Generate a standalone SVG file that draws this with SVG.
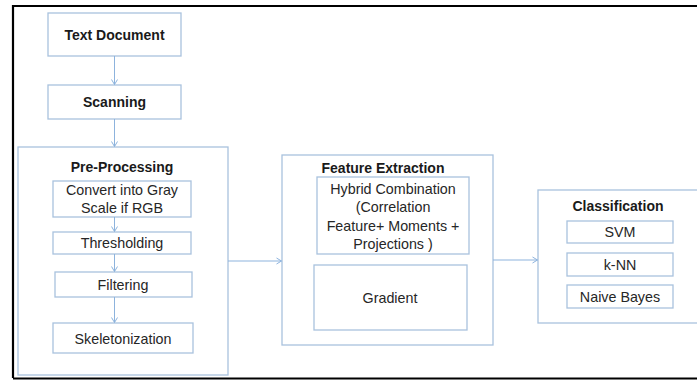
<svg xmlns="http://www.w3.org/2000/svg" width="697" height="380" viewBox="0 0 697 380">
<defs>
<marker id="arr" markerWidth="8" markerHeight="8" refX="6" refY="4" orient="auto" markerUnits="userSpaceOnUse">
<polyline points="1,1 6,4 1,7" fill="none" stroke="#8db3dd" stroke-width="1"/>
</marker>
<style>
.box{fill:#ffffff;stroke:#a9c2de;stroke-width:1.3}
.t{font-family:"Liberation Sans",Arial,sans-serif;font-size:14.3px;fill:#262626;text-anchor:middle;dominant-baseline:central}
.b{font-weight:bold;font-size:14px;fill:#1a1a1a}
.c{stroke:#8db3dd;stroke-width:1;fill:none;marker-end:url(#arr)}
</style>
</defs>
<rect x="0" y="0" width="697" height="380" fill="#ffffff"/>
<path d="M13,378 V6 H697" fill="none" stroke="#000" stroke-width="2.2"/>
<line x1="13" y1="378.5" x2="697" y2="378.5" stroke="#000" stroke-width="2"/>

<g id="text-document"><rect class="box" x="48" y="13" width="133" height="43"/><text class="t b" x="114.5" y="35">Text Document</text></g>
<g id="scanning"><rect class="box" x="48" y="85" width="133" height="34"/><text class="t b" x="114.5" y="102">Scanning</text></g>

<g id="pre-processing"><rect class="box" x="18" y="147" width="210" height="228"/><text class="t b" x="122" y="167">Pre-Processing</text></g>
<g id="convert"><rect class="box" x="53" y="181" width="138" height="36"/><text class="t" x="122" y="190">Convert into Gray</text><text class="t" x="122" y="208">Scale if RGB</text></g>
<g id="thresholding"><rect class="box" x="53" y="232" width="138" height="22"/><text class="t" x="122" y="243">Thresholding</text></g>
<g id="filtering"><rect class="box" x="55" y="272" width="137" height="25"/><text class="t" x="123" y="285">Filtering</text></g>
<g id="skeletonization"><rect class="box" x="53" y="323" width="140" height="30"/><text class="t" x="123" y="339">Skeletonization</text></g>

<g id="feature-extraction"><rect class="box" x="282" y="155" width="211" height="190"/><text class="t b" x="383" y="168">Feature Extraction</text></g>
<g id="hybrid"><rect class="box" x="317" y="177" width="152" height="77"/><text class="t" x="393" y="189">Hybrid Combination</text><text class="t" x="393" y="207">(Correlation</text><text class="t" x="393" y="226">Feature+ Moments +</text><text class="t" x="393" y="244">Projections )</text></g>
<g id="gradient"><rect class="box" x="314" y="265" width="153" height="65"/><text class="t" x="390" y="298">Gradient</text></g>

<g id="classification"><rect class="box" x="538" y="190" width="170" height="133"/><text class="t b" x="618" y="206">Classification</text></g>
<g id="svm"><rect class="box" x="567" y="221" width="106" height="22"/><text class="t" x="620" y="232">SVM</text></g>
<g id="knn"><rect class="box" x="567" y="253" width="106" height="23"/><text class="t" x="620" y="265">k-NN</text></g>
<g id="naive-bayes"><rect class="box" x="567" y="285" width="106" height="23"/><text class="t" x="620" y="297">Naive Bayes</text></g>

<g id="connectors">
<line class="c" x1="114.5" y1="56" x2="114.5" y2="84.5"/>
<line class="c" x1="114.5" y1="119" x2="114.5" y2="146.5"/>
<line class="c" x1="114.5" y1="217" x2="114.5" y2="231.5"/>
<line class="c" x1="114.5" y1="254" x2="114.5" y2="271.5"/>
<line class="c" x1="114.5" y1="297" x2="114.5" y2="322.5"/>
<line class="c" x1="228" y1="261" x2="281.5" y2="261"/>
<line class="c" x1="493" y1="260" x2="537.5" y2="260"/>
</g>
</svg>
